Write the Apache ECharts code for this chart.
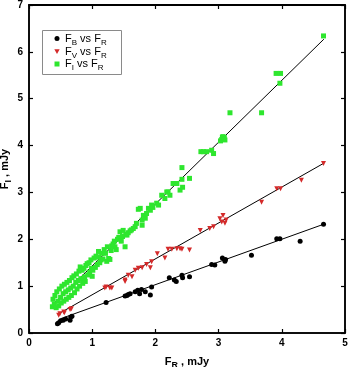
<!DOCTYPE html>
<html>
<head>
<meta charset="utf-8">
<script src="https://cdn.jsdelivr.net/npm/echarts@6/dist/echarts.min.js"></script>
<style>
  html, body { margin: 0; padding: 0; background: #fff; }
  #chart { width: 349px; height: 367px; }
</style>
</head>
<body>
<div id="chart"></div>
<script>
// Flux pairs [F_R, F_x] in mJy
const fluxB = [
  [0.45,0.20],[0.47,0.22],[0.50,0.26],[0.54,0.27],[0.58,0.30],[0.65,0.27],[0.66,0.34],[0.68,0.36],
  [1.22,0.65],[1.52,0.79],[1.55,0.80],[1.57,0.82],[1.60,0.84],[1.68,0.88],[1.72,0.91],[1.75,0.84],
  [1.78,0.93],[1.84,0.88],[1.92,0.81],[1.94,0.98],[2.22,1.18],[2.30,1.13],[2.33,1.10],[2.42,1.23],
  [2.43,1.18],[2.54,1.20],[2.89,1.46],[2.94,1.45],[3.06,1.60],[3.10,1.53],[3.11,1.57],[3.52,1.66],
  [3.92,2.01],[3.97,2.01],[4.29,1.96],[4.66,2.32]
];
const fluxV = [
  [0.47,0.38],[0.49,0.41],[0.55,0.45],[0.56,0.43],[0.65,0.50],[0.67,0.52],[1.20,0.96],[1.22,0.98],
  [1.28,0.96],[1.31,0.96],[1.52,1.10],[1.52,1.13],[1.57,1.23],[1.63,1.20],[1.68,1.34],[1.73,1.38],
  [1.79,1.39],[1.86,1.46],[1.92,1.39],[1.94,1.52],[2.03,1.69],[2.15,1.60],[2.20,1.79],[2.26,1.79],
  [2.34,1.80],[2.39,1.80],[2.42,1.79],[2.54,1.77],[2.71,2.19],[2.86,2.23],[2.92,2.27],[3.02,2.44],
  [3.05,2.37],[3.07,2.51],[3.10,2.34],[3.12,2.41],[3.68,2.79],[3.92,3.08],[3.98,3.08],[4.31,3.26],
  [4.66,3.62]
];
const fluxI = [
  [0.37,0.56],[0.38,0.72],[0.40,0.62],[0.41,0.80],[0.43,0.54],[0.44,0.88],[0.46,0.68],[0.47,0.58],
  [0.48,0.94],[0.50,0.76],[0.51,0.64],[0.52,1.00],[0.54,0.84],[0.55,0.68],[0.56,1.04],[0.58,0.88],
  [0.59,0.72],[0.60,1.08],[0.62,0.92],[0.63,0.76],[0.64,1.12],[0.66,0.96],[0.67,0.80],[0.68,1.18],
  [0.70,1.00],[0.71,1.22],[0.72,0.86],[0.74,1.08],[0.75,1.26],[0.76,0.94],[0.78,1.12],[0.79,1.32],
  [0.80,1.00],[0.81,1.41],[0.82,1.16],[0.84,1.34],[0.85,1.06],[0.87,1.38],[0.88,1.20],[0.89,1.10],
  [0.90,1.44],[0.92,1.48],[0.93,1.24],[0.95,1.50],[0.96,1.30],[0.98,1.56],[0.99,1.38],[1.00,1.21],
  [1.01,1.34],[1.03,1.60],[1.05,1.40],[1.06,1.64],[1.08,1.46],[1.10,1.62],[1.10,1.74],[1.12,1.50],
  [1.14,1.56],[1.15,1.70],[1.17,1.58],[1.19,1.78],[1.21,1.70],[1.23,1.53],[1.24,1.84],[1.26,1.59],
  [1.28,1.57],[1.30,1.76],[1.31,1.86],[1.33,1.90],[1.35,1.96],[1.36,1.84],[1.38,1.78],[1.40,2.00],
  [1.42,2.04],[1.44,2.16],[1.46,1.96],[1.48,2.06],[1.49,2.19],[1.52,1.84],[1.53,2.10],[1.55,2.09],
  [1.57,2.14],[1.60,2.18],[1.62,2.20],[1.65,2.23],[1.68,2.27],[1.70,2.34],[1.73,2.64],[1.76,2.66],
  [1.79,2.30],[1.79,2.41],[1.81,2.51],[1.84,2.45],[1.86,2.55],[1.89,2.66],[1.92,2.62],[1.94,2.73],
  [1.96,2.68],[2.02,2.77],[2.05,2.73],[2.10,2.94],[2.15,2.87],[2.18,3.01],[2.20,3.01],[2.23,2.94],
  [2.28,3.19],[2.34,3.19],[2.39,3.05],[2.43,3.11],[2.42,3.28],[2.42,3.53],[2.54,3.30],[2.72,3.87],
  [2.76,3.87],[2.81,3.87],[2.89,3.90],[2.92,3.83],[3.03,4.10],[3.05,4.13],[3.06,4.18],[3.07,4.19],
  [3.08,4.15],[3.10,4.12],[3.09,4.17],[3.18,4.70],[3.68,4.70],[3.91,5.54],[3.98,5.54],[3.97,5.33],
  [4.66,6.34]
];
// Linear fits, drawn between their end points
const fitB = [[0.50,0.305],[4.66,2.32]];
const fitV = [[0.47,0.41],[4.66,3.62]];
const fitI = [[0.40,0.64],[4.665,6.27]];

const xTicks = { min: 0, max: 5, interval: 1 };
const yTicks = { min: 0, max: 7, interval: 1 };

const FONT = 'Liberation Sans, Arial, Helvetica, sans-serif';
const subRich = {
  n: { fontFamily: FONT, fontSize: 11, fill: '#000', color: '#000' },
  s: { fontFamily: FONT, fontSize: 8, fill: '#000', color: '#000', padding: [8, 0, 0, 0] }
};
const boldRich = {
  n: { fontFamily: FONT, fontSize: 11, fontWeight: 'bold', color: '#000' },
  s: { fontFamily: FONT, fontSize: 9, fontWeight: 'bold', color: '#000', padding: [8, 0, 0, 0] }
};

function axisLine(w) { return { show: true, onZero: false, lineStyle: { color: '#000', width: w || 1.5 } }; }
function tick() { return { show: true, inside: true, length: 4, lineStyle: { color: '#000', width: 1.2 } }; }
const tickLabel = { fontFamily: FONT, fontSize: 10, fontWeight: 'bold', color: '#000' };

// Key box: one row per series
const keyRows = [
  { text: '{n|F}{s|B}{n| vs F}{s|R}', color: '#000', shape: 'circle' },
  { text: '{n|F}{s|V}{n| vs F}{s|R}', color: '#d42a2a', shape: 'triangle' },
  { text: '{n|F}{s|I}{n| vs F}{s|R}', color: '#2ee62e', shape: 'rect' }
];
const keyBox = { x: 42, y: 30, w: 79, h: 44, rowY: [38.5, 51.5, 64], symX: 57, textX: 65 };

function keyGraphic() {
  const els = [{
    type: 'rect', z: 100,
    shape: { x: keyBox.x + 0.5, y: keyBox.y + 0.5, width: keyBox.w, height: keyBox.h },
    style: { fill: '#fff', stroke: '#8a8a8a', lineWidth: 1 }
  }];
  keyRows.forEach(function (r, i) {
    const cy = keyBox.rowY[i], cx = keyBox.symX;
    if (r.shape === 'circle') {
      els.push({ type: 'circle', z: 101, shape: { cx: cx, cy: cy, r: 2.5 }, style: { fill: r.color } });
    } else if (r.shape === 'triangle') {
      els.push({ type: 'polygon', z: 101,
        shape: { points: [[cx - 2.7, cy - 2.3], [cx + 2.7, cy - 2.3], [cx, cy + 2.5]] },
        style: { fill: r.color } });
    } else {
      els.push({ type: 'rect', z: 101, shape: { x: cx - 2.5, y: cy - 2.5, width: 5, height: 5 },
        style: { fill: r.color } });
    }
    els.push({ type: 'text', z: 101, x: keyBox.textX, y: cy,
      style: { text: r.text, rich: subRich, verticalAlign: 'middle', align: 'left' } });
  });
  return els;
}

const chart = echarts.init(document.getElementById('chart'), null, { renderer: 'canvas' });
chart.setOption({
  animation: false,
  backgroundColor: '#fff',
  grid: {
    left: 29, right: 4, top: 5, bottom: 34, outerBoundsMode: 'none',
    show: true, borderColor: '#000', borderWidth: 1.5, backgroundColor: 'transparent'
  },
  graphic: keyGraphic(),
  xAxis: [{
    type: 'value', position: 'bottom', z: 10, ...xTicks,
    axisLine: axisLine(), axisTick: tick(), splitLine: { show: false },
    axisLabel: { ...tickLabel, margin: 5 },
    name: '{n|F}{s|R}{n| , mJy}', nameLocation: 'middle', nameGap: 20, nameMoveOverlap: false,
    nameTextStyle: { rich: boldRich, verticalAlign: 'top' }
  }, {
    type: 'value', position: 'top', z: 10, ...xTicks,
    axisLine: axisLine(1.8), axisTick: tick(), splitLine: { show: false },
    axisLabel: { show: true, color: 'rgba(0,0,0,0)' }
  }],
  yAxis: [{
    type: 'value', position: 'left', z: 10, ...yTicks,
    axisLine: axisLine(), axisTick: tick(), splitLine: { show: false },
    axisLabel: { ...tickLabel, margin: 6 },
    name: '{n|F}{s|I}{n| , mJy}', nameLocation: 'middle', nameGap: 16, nameMoveOverlap: false,
    nameTextStyle: { rich: boldRich, verticalAlign: 'bottom' }
  }, {
    type: 'value', position: 'right', z: 10, ...yTicks,
    axisLine: axisLine(), axisTick: tick(), splitLine: { show: false },
    axisLabel: { show: true, color: 'rgba(0,0,0,0)' }
  }],
  series: [
    { type: 'line', data: fitI, symbol: 'none', lineStyle: { color: '#000', width: 1 }, z: 1, silent: true },
    { type: 'line', data: fitV, symbol: 'none', lineStyle: { color: '#000', width: 1 }, z: 1, silent: true },
    { type: 'line', data: fitB, symbol: 'none', lineStyle: { color: '#000', width: 1 }, z: 1, silent: true },
    { name: 'I', type: 'scatter', data: fluxI, symbol: 'rect', symbolSize: 5,
      itemStyle: { color: '#2ee62e', opacity: 1 }, z: 3 },
    { name: 'V', type: 'scatter', data: fluxV, symbol: 'triangle', symbolRotate: 180, symbolSize: 5,
      itemStyle: { color: '#d42a2a', opacity: 1 }, z: 3 },
    { name: 'B', type: 'scatter', data: fluxB, symbol: 'circle', symbolSize: 5,
      itemStyle: { color: '#000', opacity: 1 }, z: 3 }
  ]
});
</script>
</body>
</html>
